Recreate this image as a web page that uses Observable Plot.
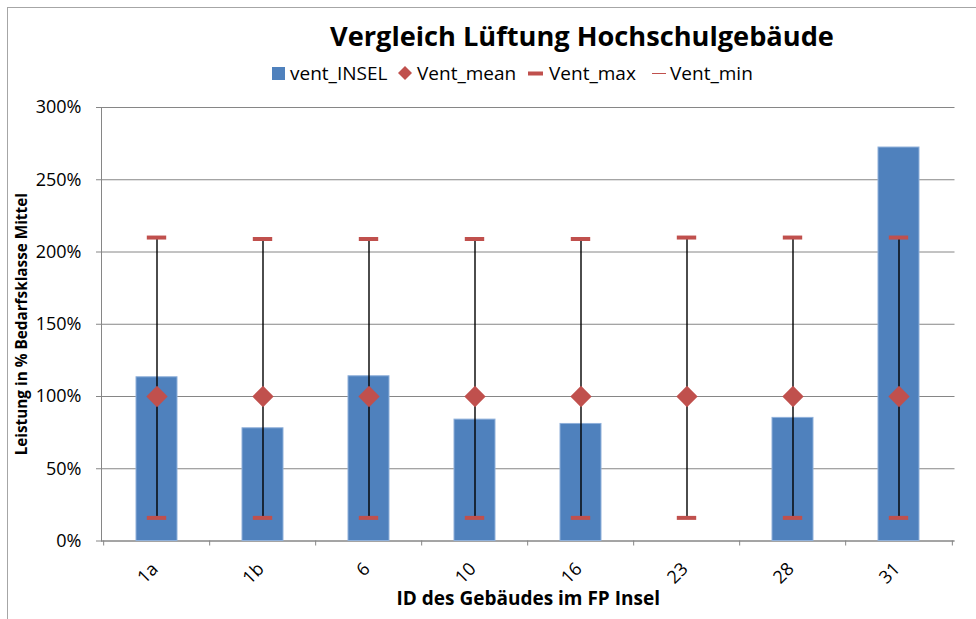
<!DOCTYPE html>
<html>
<head>
<meta charset="utf-8">
<script src="https://cdn.jsdelivr.net/npm/d3@7"></script>
<script src="https://cdn.jsdelivr.net/npm/@observablehq/plot@0.6"></script>
<style>
  html, body { margin: 0; padding: 0; background: #fff; }
  #page { position: relative; width: 976px; height: 619px; overflow: hidden; font-family: "Open Sans", sans-serif; }
  #border { position: absolute; left: 7px; top: 7px; width: 1000px; height: 700px; border: 1.5px solid #a6a6a6; box-sizing: border-box; }
  #header { position: relative; height: 90px; }
  #title { position: absolute; left: 330px; top: 22px; font-size: 27.2px; line-height: 1; font-weight: 700; color: #000; white-space: nowrap; }
  #legend { position: absolute; left: 0; top: 61px; width: 976px; height: 24px; font-size: 19px; line-height: 24px; color: #000; white-space: nowrap; }
  #legend .sw { position: absolute; top: 0; height: 24px; display: flex; align-items: center; }
  #legend .lb { position: absolute; top: 0; }
  #chart { position: relative; }
</style>
</head>
<body>
<div id="page">
  <div id="border"></div>
  <div id="header">
    <div id="title">Vergleich Lüftung Hochschulgebäude</div>
    <div id="legend"></div>
  </div>
  <div id="chart"></div>
</div>
<script>
// Building IDs and ventilation performance (share of the demand class "Mittel")
const buildingIds = ["1a", "1b", "6", "10", "16", "23", "28", "31"];
const ventInsel   = [1.133, 0.78, 1.14, 0.84, 0.81, null, 0.852, 2.723];
const ventMean    = [1, 1, 1, 1, 1, 1, 1, 1];
const ventMax     = [2.10, 2.09, 2.09, 2.09, 2.09, 2.10, 2.10, 2.10];
const ventMin     = [0.16, 0.16, 0.16, 0.16, 0.16, 0.16, 0.16, 0.16];
const yTicks      = [0, 0.5, 1, 1.5, 2, 2.5, 3];

const seriesNames = ["vent_INSEL", "Vent_mean", "Vent_max", "Vent_min"];

const blue = "#4F81BD";
const red = "#C0504D";
const grey = "#868686";

const rows = buildingIds.map((id, i) => ({
  id, insel: ventInsel[i], mean: ventMean[i], max: ventMax[i], min: ventMin[i]
}));

// Legend: swatch and label offsets for each series
const legendSwatchX = [272, 398, 528, 652];
const legendLabelX = [290, 417, 549, 670];
const swatches = [
  `<svg width="13" height="13"><rect width="13" height="13" fill="${blue}"/></svg>`,
  `<svg width="14" height="14"><path d="M7 0L14 7L7 14L0 7Z" fill="${red}"/></svg>`,
  `<svg width="15" height="5"><rect y="0.5" width="15" height="4" fill="${red}"/></svg>`,
  `<svg width="14" height="3"><rect y="1" width="14" height="1" fill="${red}"/></svg>`
];
document.getElementById("legend").innerHTML = seriesNames
  .map((name, i) =>
    `<span class="sw" style="left:${legendSwatchX[i]}px">${swatches[i]}</span>` +
    `<span class="lb" style="left:${legendLabelX[i]}px">${name}</span>`)
  .join("");

// Chart
const width = 976, height = 529;
const marginLeft = 101, marginRight = 21.5, marginTop = 17, marginBottom = 78.5;
const step = (width - marginLeft - marginRight) / buildingIds.length;
const pct = d3.format(".0%");

const chart = Plot.plot({
  width, height, marginLeft, marginRight, marginTop, marginBottom,
  style: { fontFamily: "Open Sans, sans-serif", fontSize: "16px", background: "transparent", overflow: "visible" },
  x: { type: "band", domain: buildingIds, paddingInner: 0.61, paddingOuter: 0.305, axis: null },
  y: { domain: [0, 3], axis: null },
  marks: [
    Plot.gridY(yTicks, { stroke: grey, strokeOpacity: 1 }),
    Plot.axisY(yTicks, { tickSize: 5, tickPadding: 15, tickFormat: pct, stroke: grey, fill: "#000", fontSize: 18, label: null }),
    Plot.frame({ anchor: "left", stroke: grey }),
    Plot.ruleY([0], { stroke: grey }),
    // category boundary ticks
    Plot.axisX(buildingIds, { tickSize: 5, fill: "none", stroke: grey, dx: -step / 2, label: null }),
    Plot.axisX(buildingIds.slice(-1), { tickSize: 5, fill: "none", stroke: grey, dx: step / 2, label: null }),
    Plot.axisX(buildingIds, { tickSize: 0, tickRotate: -45, tickPadding: 25, fontSize: 18, fill: "#000", label: null, dx: -2 }),
    Plot.barY(rows, { x: "id", y: "insel", fill: blue, stroke: "#8fb0da", strokeWidth: 1 }),
    Plot.ruleX(rows, { x: "id", y1: "min", y2: "max", stroke: "#000", strokeWidth: 1.4 }),
    Plot.tickY(rows, { x: "id", y: "max", stroke: red, strokeWidth: 4, insetLeft: 10.8, insetRight: 10.8 }),
    Plot.tickY(rows, { x: "id", y: "min", stroke: red, strokeWidth: 4, insetLeft: 10.8, insetRight: 10.8 }),
    Plot.dot(rows, { x: "id", y: "mean", symbol: "diamond2", r: 9.6, fill: red, stroke: "none" }),
    Plot.text(["Leistung in % Bedarfsklasse Mittel"], { frameAnchor: "left", textAnchor: "middle", dx: -79, rotate: -90, fontSize: 15.3, fontWeight: "bold", fill: "#000" }),
    Plot.text(["ID des Gebäudes im FP Insel"], { frameAnchor: "bottom", dy: 64, fontSize: 19, fontWeight: "bold", fill: "#000" })
  ]
});
document.getElementById("chart").appendChild(chart);
</script>
</body>
</html>
